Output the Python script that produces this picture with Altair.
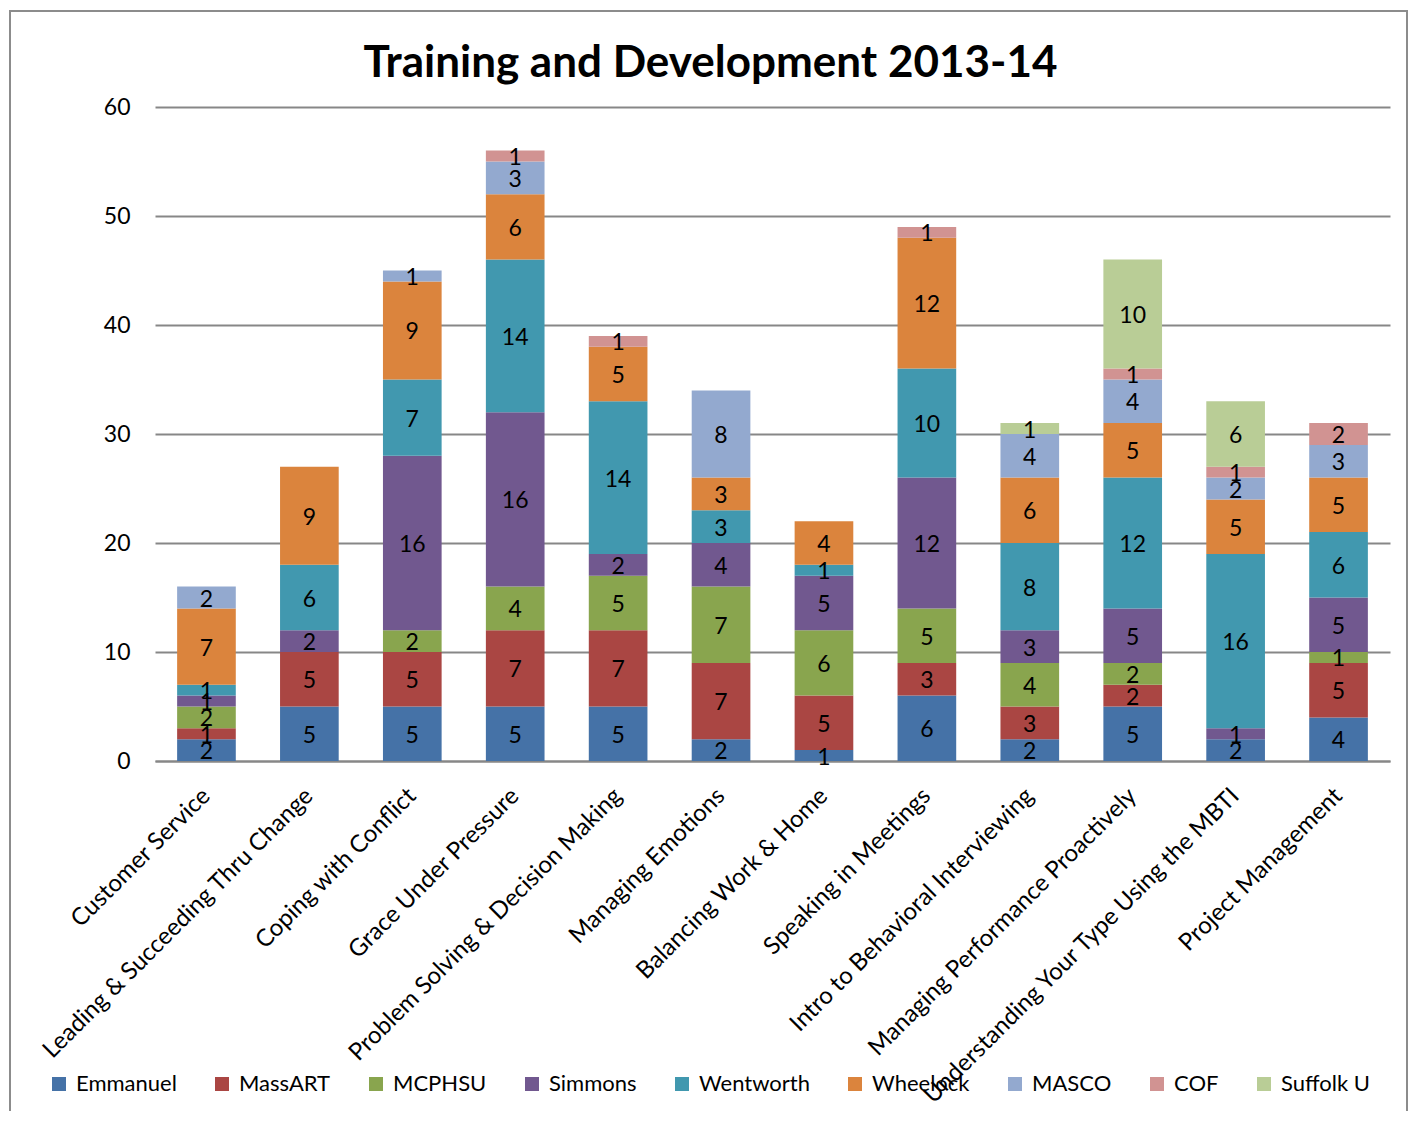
import altair as alt
import pandas as pd

categories = [
    "Customer Service", "Leading & Succeeding Thru Change", "Coping with Conflict",
    "Grace Under Pressure", "Problem Solving & Decision Making", "Managing Emotions",
    "Balancing Work & Home", "Speaking in Meetings", "Intro to Behavioral Interviewing",
    "Managing Performance Proactively", "Understanding Your Type Using the MBTI",
    "Project Management",
]
series = ["Emmanuel", "MassART", "MCPHSU", "Simmons", "Wentworth", "Wheelock",
          "MASCO", "COF", "Suffolk U"]
colors = ["#4572A7", "#AA4643", "#89A54E", "#71588F", "#4198AF", "#DB843D",
          "#93A9CF", "#D19392", "#B9CD96"]

emmanuel = [2, 5, 5, 5, 5, 2, 1, 6, 2, 5, 2, 4]
massart = [1, 5, 5, 7, 7, 7, 5, 3, 3, 2, 0, 5]
mcphsu = [2, 0, 2, 4, 5, 7, 6, 5, 4, 2, 0, 1]
simmons = [1, 2, 16, 16, 2, 4, 5, 12, 3, 5, 1, 5]
wentworth = [1, 6, 7, 14, 14, 3, 1, 10, 8, 12, 16, 6]
wheelock = [7, 9, 9, 6, 5, 3, 4, 12, 6, 5, 5, 5]
masco = [2, 0, 1, 3, 0, 8, 0, 0, 4, 4, 2, 3]
cof = [0, 0, 0, 1, 1, 0, 0, 1, 0, 1, 1, 2]
suffolk = [0, 0, 0, 0, 0, 0, 0, 0, 1, 10, 6, 0]

values = [emmanuel, massart, mcphsu, simmons, wentworth, wheelock, masco, cof, suffolk]

rows = []
for si, (s, vals) in enumerate(zip(series, values)):
    for c, v in zip(categories, vals):
        rows.append({"category": c, "series": s, "order": si, "value": v})
df = pd.DataFrame(rows)

FONT = "Lato"
W, H = 1235, 654

base = (
    alt.Chart(df)
    .transform_filter("datum.value > 0")
    .transform_stack(stack="value", groupby=["category"], as_=["y0", "y1"],
                     sort=[alt.SortField("order", order="ascending")])
    .transform_calculate(mid="(datum.y0 + datum.y1) / 2")
)

xenc = alt.X(
    "category:N", sort=categories, title=None,
    scale=alt.Scale(paddingInner=0.43, paddingOuter=0.215),
    axis=alt.Axis(labelAngle=-45, labelAlign="right", labelBaseline="middle",
                  labelFontSize=24, labelFont=FONT, labelColor="black",
                  labelPadding=31, ticks=False, domain=True, domainColor="#878787",
                  domainWidth=2, labelLimit=700, labelOverlap=False),
)
yscale = alt.Scale(domain=[0, 60])

bars = base.mark_bar().encode(
    x=xenc,
    y=alt.Y("y0:Q", scale=yscale, title=None,
            axis=alt.Axis(values=[0, 10, 20, 30, 40, 50, 60], grid=True,
                          gridColor="#878787", gridWidth=2, domain=False, ticks=False,
                          labelFontSize=23, labelFont=FONT, labelColor="black",
                          labelPadding=25)),
    y2="y1:Q",
    color=alt.Color(
        "series:N", sort=series, scale=alt.Scale(domain=series, range=colors),
        legend=alt.Legend(orient="none", legendX=-107, legendY=966, direction="horizontal",
                          columns=9, title=None, symbolType="square", symbolSize=196,
                          symbolStrokeWidth=0, labelFontSize=22, labelFont=FONT,
                          labelColor="black", columnPadding=34, labelOffset=6,
                          padding=0, labelLimit=300),
    ),
    order=alt.Order("order:Q"),
)

labels = base.mark_text(fontSize=23, font=FONT, color="black", dy=2).encode(
    x=alt.X("category:N", sort=categories),
    y=alt.Y("mid:Q", scale=yscale),
    text="value:Q",
)

frame = alt.Chart(alt.Data(values=[{"a": 1}])).mark_rect(
    fill=None, stroke="#8c8c8c", strokeWidth=2
).encode(
    x=alt.value(-145), x2=alt.value(W + 17), y=alt.value(-96), y2=alt.value(H + 400)
)

chart = (
    alt.layer(frame, bars, labels)
    .properties(
        width=W, height=H,
        autosize=alt.AutoSizeParams(type="none"),
        padding={"left": 147, "top": 99, "right": 18, "bottom": 350},
        title=alt.Title("Training and Development 2013-14", fontSize=44, font=FONT,
                        fontWeight="bold", color="black", frame="group", dx=-62,
                        baseline="alphabetic", offset=-111),
    )
    .configure_view(stroke=None)
)

chart.save("out.html", embed_options={"renderer": "svg", "actions": False})
